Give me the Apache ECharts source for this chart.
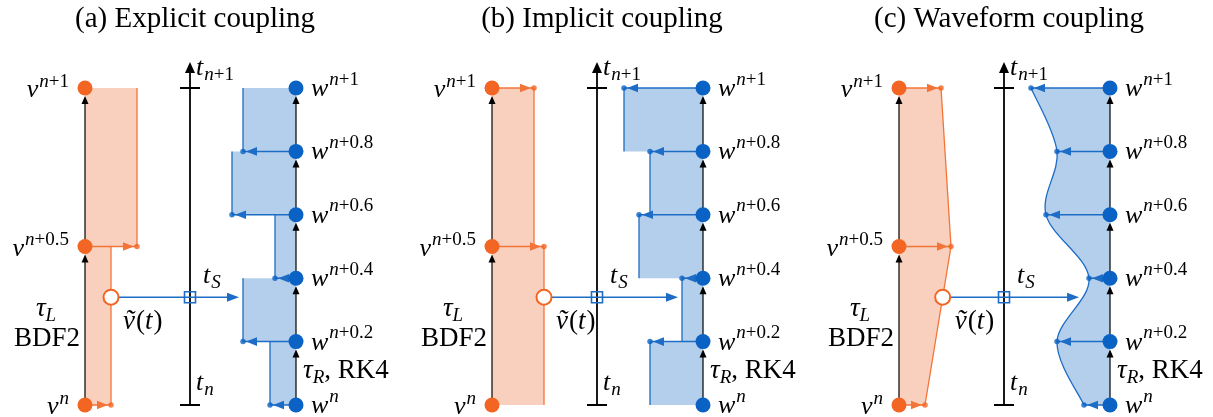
<!DOCTYPE html>
<html><head><meta charset="utf-8">
<script src="https://cdn.jsdelivr.net/npm/echarts@6/dist/echarts.min.js"></script>
<style>html,body{margin:0;padding:0;background:#fff}#c{width:1213px;height:417px}</style>
</head><body><div id="c"></div>
<script>
// ---------------- data ----------------
const panelTitles = ['(a) Explicit coupling', '(b) Implicit coupling', '(c) Waveform coupling'];
const panelSchemes = ['explicit', 'implicit', 'waveform'];
const vTimes = [0, 0.5, 1];
const vValues = [26, 52, 42];
const vSupers = ['n', 'n+0.5', 'n+1'];
const wTimes = [0, 0.2, 0.4, 0.6, 0.8, 1];
const wValues = [26, 53, 21, 64, 53, 79];
const wSupers = ['n', 'n+0.2', 'n+0.4', 'n+0.6', 'n+0.8', 'n+1'];
const couplingTime = 0.34;

// ---------------- layout / style ----------------
const V_LINE = 0, T_AXIS = 105, W_LINE = 211;
const PANEL_STEP = 407, X_MIN = -85, X_MAX = 314;
const GRID_TOP = 88, GRID_H = 317;
const C = {
  orange: '#f26522', orangeLine: '#f37438', orangeFill: '#f9d0bd',
  blue: '#0a62c4', blueLine: '#1d6cc6', blueFill: '#b4cfeb', black: '#000'
};
const DOT = 15, DOT_R = 7.5;
const FONT = '"Liberation Serif", "Times New Roman", serif';
const BIG = 26, SMALL = 19;

const V = { times: vTimes, values: vValues, base: V_LINE, sgn: 1, fill: C.orangeFill, line: C.orangeLine, smooth: false };
const W = { times: wTimes, values: wValues, base: W_LINE, sgn: -1, fill: C.blueFill, line: C.blueLine, smooth: true };

// ---------------- helpers ----------------
function heldIndex(scheme, a, b) { return scheme === 'explicit' ? a : b; }
function activeIdx(scheme, n) {
  const r = [];
  for (let i = 0; i < n; i++) {
    if (scheme === 'explicit' && i === n - 1) continue;
    if (scheme === 'implicit' && i === 0) continue;
    r.push(i);
  }
  return r;
}
function valueAt(scheme, times, values, t) {
  for (let a = 0; a < times.length - 1; a++) {
    if (t >= times[a] && t <= times[a + 1]) {
      if (scheme === 'waveform') {
        const f = (t - times[a]) / (times[a + 1] - times[a]);
        return values[a] + f * (values[a + 1] - values[a]);
      }
      return values[heldIndex(scheme, a, a + 1)];
    }
  }
  return values[0];
}
function bezierSegs(pts) {
  const segs = [];
  const n = pts.length;
  for (let i = 0; i < n - 1; i++) {
    const p0 = pts[Math.max(i - 1, 0)], p1 = pts[i], p2 = pts[i + 1], p3 = pts[Math.min(i + 2, n - 1)];
    const c1 = [p1[0] + (p2[0] - p0[0]) / 6, p1[1] + (p2[1] - p0[1]) / 6];
    const c2 = [p2[0] - (p3[0] - p1[0]) / 6, p2[1] - (p3[1] - p1[1]) / 6];
    segs.push([p1, c1, c2, p2]);
  }
  return segs;
}
function bez(g, u, k) {
  const m = 1 - u;
  return m * m * m * g[0][k] + 3 * m * m * u * g[1][k] + 3 * m * u * u * g[2][k] + u * u * u * g[3][k];
}
function curveXAt(segs, y) {
  for (const g of segs) {
    const ya = g[0][1], yb = g[3][1];
    if ((y - ya) * (y - yb) <= 0) {
      let lo = 0, hi = 1;
      for (let it = 0; it < 40; it++) {
        const mid = (lo + hi) / 2;
        const ym = bez(g, mid, 1);
        if ((ym - ya) * (y - ya) >= 0 && Math.abs(ym - ya) < Math.abs(y - ya)) lo = mid; else hi = mid;
      }
      return bez(g, (lo + hi) / 2, 0);
    }
  }
  return segs[0][0][0];
}
function segsPath(segs) {
  return segs.map(g => 'C' + g[1][0] + ',' + g[1][1] + ' ' + g[2][0] + ',' + g[2][1] + ' ' + g[3][0] + ',' + g[3][1]).join(' ');
}
function line(a, b, stroke, w) {
  return { type: 'line', shape: { x1: a[0], y1: a[1], x2: b[0], y2: b[1] }, style: { stroke: stroke, lineWidth: w } };
}
function head(tip, dir, len, half, color) {
  const bx = tip[0] - dir[0] * len, by = tip[1] - dir[1] * len;
  const nx = -dir[1], ny = dir[0];
  return { type: 'polygon', shape: { points: [tip, [bx + nx * half, by + ny * half], [bx - nx * half, by - ny * half]] }, style: { fill: color } };
}
const mctx = document.createElement('canvas').getContext('2d');
function fontStr(size, italic) { return (italic ? 'italic ' : '') + size + 'px ' + FONT; }
function textW(text, size, italic) { mctx.font = fontStr(size, italic); return mctx.measureText(text).width; }
// parts: [text, size, italic, dy, gapBefore]
function mathLabel(x, baseline, align, parts) {
  const ws = parts.map(q => textW(q[0], q[1], q[2]) + (q[4] || 0));
  const total = ws.reduce((a, b) => a + b, 0);
  let cx = align === 'right' ? x - total : align === 'center' ? x - total / 2 : x;
  return parts.map((q, i) => {
    const el = {
      type: 'text', x: cx + (q[4] || 0), y: baseline + (q[3] || 0) - 0.3375 * q[1],
      style: { text: q[0], font: fontStr(q[1], q[2]), fill: '#000', align: 'left', verticalAlign: 'middle' }
    };
    cx += ws[i];
    return el;
  });
}
function supParts(s, dy) {
  const parts = [['n', SMALL, true, dy, 1]];
  if (s.length > 1) parts.push([s.slice(1), SMALL, false, dy]);
  return parts;
}

// ---------------- render functions ----------------
function renderFill(scheme, s) {
  return function (params, api) {
    if (params.dataIndex !== 0) return null;
    const P = (val, t) => api.coord([s.base + s.sgn * val, t]);
    const n = s.times.length;
    const els = [];
    if (scheme === 'waveform') {
      const pts = s.times.map((t, i) => P(s.values[i], t));
      const b0 = P(0, s.times[0]), b1 = P(0, s.times[n - 1]);
      if (s.smooth) {
        const curve = segsPath(bezierSegs(pts));
        els.push({ type: 'path', shape: { pathData: 'M' + b0[0] + ',' + b0[1] + ' L' + pts[0][0] + ',' + pts[0][1] + ' ' + curve + ' L' + b1[0] + ',' + b1[1] + ' Z' }, style: { fill: s.fill, stroke: 'none' } });
        els.push({ type: 'path', shape: { pathData: 'M' + pts[0][0] + ',' + pts[0][1] + ' ' + curve }, style: { fill: 'none', stroke: s.line, lineWidth: 1.3 } });
      } else {
        els.push({ type: 'polygon', shape: { points: [b0].concat(pts, [b1]) }, style: { fill: s.fill } });
        els.push({ type: 'polyline', shape: { points: pts }, style: { fill: 'none', stroke: s.line, lineWidth: 1.3 } });
      }
    } else {
      const poly = [P(0, s.times[0])];
      const lines = [];
      for (let a = 0; a < n - 1; a++) {
        const k = heldIndex(scheme, a, a + 1);
        const p1 = P(s.values[k], s.times[a]), p2 = P(s.values[k], s.times[a + 1]);
        poly.push(p1, p2);
        lines.push(line(p1, p2, s.line, 1.3));
      }
      poly.push(P(0, s.times[n - 1]));
      els.push({ type: 'polygon', shape: { points: poly }, style: { fill: s.fill } });
      lines.forEach(l => els.push(l));
    }
    return { type: 'group', children: els };
  };
}

function renderArrows(scheme) {
  return function (params, api) {
    if (params.dataIndex !== 0) return null;
    const els = [];
    [V, W].forEach(s => {
      for (let i = 1; i < s.times.length; i++) {
        const a = api.coord([s.base, s.times[i - 1]]), b = api.coord([s.base, s.times[i]]);
        const tip = [b[0], b[1] + DOT_R + 0.5];
        els.push(line(a, [tip[0], tip[1] + 4], C.black, 1.2), head(tip, [0, -1], 8, 3.5, C.black));
      }
      activeIdx(scheme, s.times.length).forEach(i => {
        const a = api.coord([s.base, s.times[i]]);
        const b = api.coord([s.base + s.sgn * s.values[i], s.times[i]]);
        const tip = [b[0] - s.sgn * 3, b[1]];
        els.push(line(a, b, s.line, 1.5), head(tip, [s.sgn, 0], 11, 4.3, s.line));
      });
    });
    // time axis
    const t0 = api.coord([T_AXIS, 0]), t1 = api.coord([T_AXIS, 1]);
    const top = [t1[0], t1[1] - 26];
    els.push(line(t0, [top[0], top[1] + 6], C.black, 1.8), head(top, [0, -1], 11, 5, C.black));
    els.push(line([t0[0] - 10, t0[1]], [t0[0] + 10, t0[1]], C.black, 2));
    els.push(line([t1[0] - 10, t1[1]], [t1[0] + 10, t1[1]], C.black, 2));
    // coupling arrow
    const h = api.coord([V_LINE + valueAt(scheme, vTimes, vValues, couplingTime), couplingTime]);
    let edgeX;
    if (scheme === 'waveform') {
      edgeX = curveXAt(bezierSegs(wTimes.map((t, i) => api.coord([W_LINE - wValues[i], t]))), h[1]);
    } else {
      edgeX = api.coord([W_LINE - valueAt(scheme, wTimes, wValues, couplingTime), couplingTime])[0];
    }
    const tip = [edgeX - 4, h[1]];
    els.push(line(h, [tip[0] - 5, tip[1]], C.blueLine, 1.5), head(tip, [1, 0], 12, 4.5, C.blueLine));
    return { type: 'group', children: els };
  };
}

function renderLabels(scheme) {
  return function (params, api) {
    if (params.dataIndex !== 0) return null;
    let els = [];
    vTimes.forEach((t, i) => {
      const p = api.coord([V_LINE, t]);
      els = els.concat(mathLabel(p[0] - 16, p[1] + 11, 'right', [['v', BIG, true]].concat(supParts(vSupers[i], -11))));
    });
    wTimes.forEach((t, i) => {
      const p = api.coord([W_LINE, t]);
      els = els.concat(mathLabel(p[0] + 15, p[1] + 10, 'left', [['w', BIG, true]].concat(supParts(wSupers[i], -12))));
    });
    const a1 = api.coord([T_AXIS, 1]), a0 = api.coord([T_AXIS, 0]), aS = api.coord([T_AXIS, couplingTime]);
    els = els.concat(mathLabel(a1[0] + 6, a1[1] - 11, 'left', [['t', BIG, true], ['n', SMALL, true, 4, 1], ['+1', SMALL, false, 4]]));
    els = els.concat(mathLabel(a0[0] + 6, a0[1] - 13, 'left', [['t', BIG, true], ['n', SMALL, true, 4, 1]]));
    els = els.concat(mathLabel(aS[0] + 13, aS[1] - 12, 'left', [['t', BIG, true], ['S', SMALL, true, 4, 1]]));
    const h = api.coord([V_LINE + valueAt(scheme, vTimes, vValues, couplingTime), couplingTime]);
    els = els.concat(mathLabel(h[0] + 12, h[1] + 34, 'left', [['v\u0303', 27, true], ['(', 27, false, 0, 1], ['t', 27, true], [')', 27, false, 0, 1]]));
    const vS = api.coord([V_LINE, couplingTime]);
    els = els.concat(mathLabel(vS[0] - 39, vS[1] + 21, 'center', [['\u03c4', 27, true], ['L', SMALL, true, 4]]));
    els = els.concat(mathLabel(vS[0] - 38, vS[1] + 51, 'center', [['BDF2', 27, false]]));
    const w0 = api.coord([W_LINE, 0]);
    els = els.concat(mathLabel(w0[0] + 7, w0[1] - 25, 'left', [['\u03c4', 27, true], ['R', SMALL, true, 4], [', RK4', 27, false]]));
    return { type: 'group', children: els };
  };
}

// ---------------- option ----------------
const grids = [], xAxes = [], yAxes = [], series = [], graphics = [];
panelSchemes.forEach((scheme, p) => {
  grids.push({ left: PANEL_STEP * p, top: GRID_TOP, width: X_MAX - X_MIN, height: GRID_H, outerBoundsMode: 'none' });
  xAxes.push({ type: 'value', gridIndex: p, min: X_MIN, max: X_MAX, show: false });
  yAxes.push({ type: 'value', gridIndex: p, min: 0, max: 1, show: false });
  const vData = vTimes.map((t, i) => [vValues[i], t]);
  const wData = wTimes.map((t, i) => [wValues[i], t]);
  const ax = { xAxisIndex: p, yAxisIndex: p };
  series.push(Object.assign({ type: 'custom', z: 1, data: vData, renderItem: renderFill(scheme, V), silent: true }, ax));
  series.push(Object.assign({ type: 'custom', z: 1, data: wData, renderItem: renderFill(scheme, W), silent: true }, ax));
  series.push(Object.assign({ type: 'custom', z: 2, data: wData, renderItem: renderArrows(scheme), silent: true }, ax));
  const endDots = activeIdx(scheme, vTimes.length).map(i => [V_LINE + vValues[i], vTimes[i], 'v'])
    .concat(activeIdx(scheme, wTimes.length).map(i => [W_LINE - wValues[i], wTimes[i], 'w']));
  series.push(Object.assign({ type: 'scatter', z: 3, symbolSize: 5.5, silent: true,
    data: endDots.map(d => ({ value: [d[0], d[1]], itemStyle: { color: d[2] === 'v' ? C.orange : C.blue } })) }, ax));
  series.push(Object.assign({ type: 'scatter', z: 4, symbolSize: DOT, silent: true, itemStyle: { color: C.orange, opacity: 1 },
    data: vTimes.map(t => [V_LINE, t]) }, ax));
  series.push(Object.assign({ type: 'scatter', z: 4, symbolSize: DOT, silent: true, itemStyle: { color: C.blue, opacity: 1 },
    data: wTimes.map(t => [W_LINE, t]) }, ax));
  series.push(Object.assign({ type: 'scatter', z: 5, symbolSize: 15, silent: true,
    itemStyle: { color: '#fff', borderColor: C.orange, borderWidth: 2, opacity: 1 },
    data: [[V_LINE + valueAt(scheme, vTimes, vValues, couplingTime), couplingTime]] }, ax));
  series.push(Object.assign({ type: 'scatter', z: 5, symbol: 'rect', symbolSize: 11, silent: true,
    itemStyle: { color: 'rgba(0,0,0,0)', borderColor: C.blueLine, borderWidth: 1.6, opacity: 1 },
    data: [[T_AXIS, couplingTime]] }, ax));
  series.push(Object.assign({ type: 'custom', z: 6, data: wData, renderItem: renderLabels(scheme), silent: true }, ax));
  graphics.push({ type: 'text', x: PANEL_STEP * p + 85 + T_AXIS + 5, y: 29 - 0.3375 * 29,
    style: { text: panelTitles[p], font: fontStr(29, false), fill: '#000', align: 'center', verticalAlign: 'middle' } });
});

const chart = echarts.init(document.getElementById('c'), null, { renderer: 'canvas' });
chart.setOption({
  animation: false,
  backgroundColor: '#fff',
  grid: grids, xAxis: xAxes, yAxis: yAxes,
  series: series,
  graphic: graphics
});
</script></body></html>
